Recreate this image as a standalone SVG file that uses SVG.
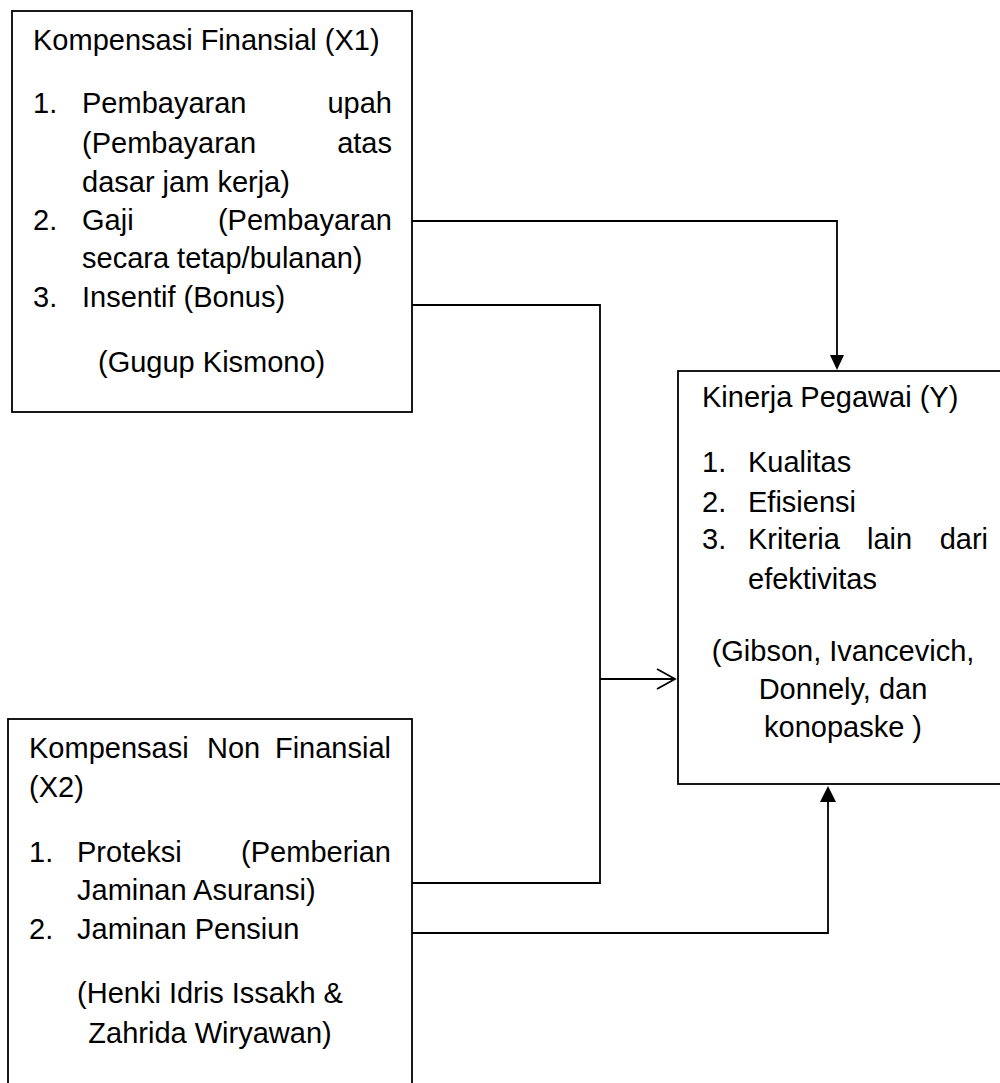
<svg xmlns="http://www.w3.org/2000/svg" width="1000" height="1083" viewBox="0 0 1000 1083">
<style>
.box{fill:#fff;stroke:#000;stroke-width:1.8}
.t{font-family:"Liberation Sans",Arial,sans-serif;font-size:29px;fill:#000}
.e{text-anchor:end}
.m{text-anchor:middle}
.c{fill:none;stroke:#000;stroke-width:1.8}
</style>
<rect width="1000" height="1083" fill="#fff"/>
<g id="connectors">
<polyline class="c" points="412,221 837,221 837,356"/>
<polygon points="830,355 844,355 837,370" fill="#000"/>
<polyline class="c" points="412,305 600,305 600,883 412,883"/>
<line class="c" x1="600" y1="679" x2="675" y2="679"/>
<polyline class="c" points="657,669 675,679 657,689"/>
<polyline class="c" points="412,933 828,933 828,801"/>
<polygon points="820,802 836,802 828,786" fill="#000"/>
</g>
<g id="node-x1">
<rect class="box" x="12" y="11" width="400" height="401"/>
<text class="t" x="33" y="50">Kompensasi Finansial (X1)</text>
<text class="t" x="33" y="113">1.</text>
<text class="t" x="82" y="113">Pembayaran</text>
<text class="t e" x="392" y="113">upah</text>
<text class="t" x="82" y="153">(Pembayaran</text>
<text class="t e" x="392" y="153">atas</text>
<text class="t" x="82" y="192">dasar jam kerja)</text>
<text class="t" x="33" y="230">2.</text>
<text class="t" x="82" y="230">Gaji</text>
<text class="t e" x="392" y="230">(Pembayaran</text>
<text class="t" x="82" y="268">secara tetap/bulanan)</text>
<text class="t" x="33" y="307">3.</text>
<text class="t" x="82" y="307">Insentif (Bonus)</text>
<text class="t" x="98" y="372">(Gugup Kismono)</text>
</g>
<g id="node-x2">
<rect class="box" x="8" y="719" width="404" height="380"/>
<text class="t" x="29" y="758">Kompensasi</text>
<text class="t" x="207" y="758">Non</text>
<text class="t e" x="391" y="758">Finansial</text>
<text class="t" x="29" y="797">(X2)</text>
<text class="t" x="29" y="862">1.</text>
<text class="t" x="77" y="862">Proteksi</text>
<text class="t e" x="391" y="862">(Pemberian</text>
<text class="t" x="77" y="900">Jaminan Asuransi)</text>
<text class="t" x="29" y="939">2.</text>
<text class="t" x="77" y="939">Jaminan Pensiun</text>
<text class="t m" x="210" y="1003">(Henki Idris Issakh &amp;</text>
<text class="t m" x="210" y="1043">Zahrida Wiryawan)</text>
</g>
<g id="node-y">
<rect class="box" x="678" y="371" width="340" height="413"/>
<text class="t" x="702" y="407">Kinerja Pegawai (Y)</text>
<text class="t" x="702" y="472">1.</text>
<text class="t" x="748" y="472">Kualitas</text>
<text class="t" x="702" y="512">2.</text>
<text class="t" x="748" y="512">Efisiensi</text>
<text class="t" x="702" y="549">3.</text>
<text class="t" x="748" y="549">Kriteria</text>
<text class="t" x="867" y="549">lain</text>
<text class="t e" x="988" y="549">dari</text>
<text class="t" x="748" y="589">efektivitas</text>
<text class="t m" x="843" y="661">(Gibson, Ivancevich,</text>
<text class="t m" x="843" y="699">Donnely, dan</text>
<text class="t m" x="843" y="737">konopaske )</text>
</g>
</svg>
